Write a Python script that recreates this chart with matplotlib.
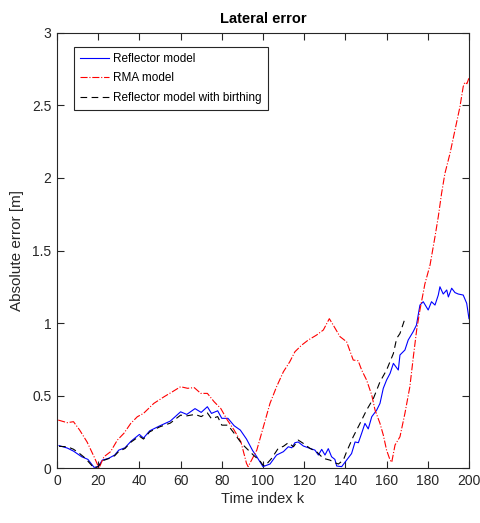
import matplotlib
matplotlib.use("Agg")
import matplotlib.pyplot as plt
import numpy as np

plt.rcParams['font.family'] = ['Liberation Sans', 'DejaVu Sans']

# Reflector model (blue)
k_ref = [1, 5, 8, 12, 15, 18, 20, 22, 25, 28, 30, 33, 36, 40, 42, 45, 50, 55, 60, 63,
         67, 70, 73, 75, 78, 80, 83, 86, 89, 92, 95, 97, 100, 103.4, 106.6, 109.9, 112.3,
         114, 115.5, 117.1, 119.6, 122.8, 125.2, 126.9, 128.5, 130.1, 131.7, 133.3, 134.9,
         135.8, 138.2, 140.6, 143, 144.7, 146.3, 147.9, 149.5, 151.1, 152.8, 155.2, 156.8,
         158.4, 160, 161.7, 163.3, 165.7, 166.5, 168.9, 170.5, 172.9, 174.5, 176.2, 177.8,
         180.2, 181.8, 183.5, 185.1, 185.9, 187.5, 189.2, 190, 191.6, 193.2, 194.8, 197.2,
         198.9, 200]
e_ref = [0.155, 0.138, 0.117, 0.078, 0.06, 0.005, 0.01, 0.055, 0.067, 0.09, 0.124, 0.14,
         0.186, 0.232, 0.207, 0.257, 0.292, 0.324, 0.388, 0.37, 0.41, 0.384, 0.423, 0.377,
         0.395, 0.343, 0.343, 0.292, 0.262, 0.2, 0.12, 0.078, 0.01, 0.028, 0.09, 0.113,
         0.147, 0.14, 0.175, 0.18, 0.152, 0.136, 0.124, 0.09, 0.129, 0.09, 0.134, 0.078,
         0.06, 0.014, 0.01, 0.055, 0.1, 0.18, 0.175, 0.24, 0.308, 0.27, 0.354, 0.4, 0.446,
         0.55, 0.607, 0.653, 0.722, 0.676, 0.78, 0.814, 0.883, 0.94, 0.986, 1.124, 1.147,
         1.09, 1.147, 1.124, 1.193, 1.25, 1.2, 1.228, 1.18, 1.24, 1.21, 1.2, 1.193, 1.136,
         1.03]

# RMA model (red)
k_rma = [0.6, 5, 8, 11, 14.6, 18, 20.4, 22.8, 26, 29.3, 32.5, 35.8, 39, 42, 47, 52, 56,
         60, 63.4, 66.6, 69.8, 73, 76.3, 79.5, 82.7, 86, 89.3, 92, 92.8, 97, 100.2, 103.4,
         106.6, 109.9, 113, 115.5, 118.8, 122, 126, 129.3, 132.2, 134.1, 137.4, 140.6,
         143.8, 146.2, 147.9, 150.3, 152.8, 154.4, 156.8, 158.4, 160, 161.7, 162.5, 164.1,
         166.5, 168.9, 171.3, 173, 174.6, 176.2, 178.6, 181.1, 183.5, 185.1, 186.7, 188.3,
         190.8, 193.2, 195.6, 197.2, 198, 199, 200]
e_rma = [0.331, 0.313, 0.32, 0.262, 0.18, 0.078, 0.0, 0.078, 0.113, 0.193, 0.24, 0.308,
         0.354, 0.377, 0.446, 0.492, 0.526, 0.561, 0.55, 0.555, 0.515, 0.515, 0.457, 0.411,
         0.331, 0.262, 0.18, 0.032, 0.01, 0.124, 0.285, 0.446, 0.561, 0.664, 0.733, 0.802,
         0.848, 0.883, 0.917, 0.952, 1.03, 0.986, 0.906, 0.871, 0.745, 0.74, 0.676, 0.607,
         0.503, 0.4, 0.308, 0.228, 0.124, 0.055, 0.04, 0.159, 0.216, 0.377, 0.561, 0.768,
         0.952, 1.09, 1.27, 1.4, 1.595, 1.733, 1.894, 2.03, 2.17, 2.33, 2.49, 2.63, 2.66,
         2.65, 2.69]

# Reflector model with birthing (black)
k_bir = [1, 5, 8, 11, 13.6, 18, 20, 22, 25, 28, 30, 33, 36, 40, 42, 45, 50, 55, 60, 63,
         67, 70, 73, 75, 78, 80, 83, 86, 89.6, 92, 95.3, 98.5, 100, 101, 104.2, 107.4,
         109.9, 112.3, 114.8, 117.1, 119.6, 122.8, 126, 129.3, 132.5, 134.9, 136.6, 139,
         140.6, 143.8, 147.1, 150.3, 153.6, 156.8, 160, 163.3, 164.9, 166.5, 168.9]
e_bir = [0.15, 0.147, 0.13, 0.1, 0.07, 0.0, 0.01, 0.05, 0.065, 0.085, 0.115, 0.135, 0.18,
         0.22, 0.2, 0.25, 0.285, 0.31, 0.365, 0.36, 0.37, 0.355, 0.38, 0.34, 0.355, 0.296,
         0.296, 0.24, 0.17, 0.136, 0.09, 0.05, 0.02, 0.015, 0.067, 0.136, 0.15, 0.175,
         0.147, 0.193, 0.17, 0.136, 0.113, 0.067, 0.055, 0.037, 0.028, 0.055, 0.113, 0.216,
         0.308, 0.4, 0.48, 0.595, 0.676, 0.79, 0.894, 0.928, 1.03]

fig = plt.figure(figsize=(4.81, 5.23), dpi=100)
ax = fig.add_axes([0.1185, 0.105, 0.8565, 0.832])

ax.plot(k_ref, e_ref, '-', color='#0000ff', lw=0.8, label='Reflector model')
ax.plot(k_rma, e_rma, '-.', color='#ff0000', lw=0.8, label='RMA model')
ax.plot(k_bir, e_bir, '--', color='black', lw=0.8, dashes=(6, 4),
        label='Reflector model with birthing')

ax.set_xlim(0, 200)
ax.set_ylim(0, 3)
ax.set_xticks(np.arange(0, 201, 20))
ax.set_yticks([0, 0.5, 1, 1.5, 2, 2.5, 3])
ax.set_yticklabels(['0', '0.5', '1', '1.5', '2', '2.5', '3'])
ax.tick_params(direction='in', top=True, right=True, length=5, width=0.8,
               labelsize=10, colors='#262626', pad=4)
for s in ax.spines.values():
    s.set_color('#262626')
    s.set_linewidth(0.8)

ax.set_title('Lateral error', fontsize=10.5, fontweight='bold', pad=7)
ax.set_xlabel('Time index k', fontsize=10.5, color='#262626', labelpad=3)
ax.set_ylabel('Absolute error [m]', fontsize=11, color='#262626', labelpad=6)

leg = ax.legend(loc='upper left', bbox_to_anchor=(0.041, 0.968), borderaxespad=0,
                fontsize=8.5, frameon=True, fancybox=False, framealpha=1,
                edgecolor='#262626', handlelength=2.5, borderpad=0.5,
                labelspacing=0.65, handletextpad=0.35)
leg.get_frame().set_linewidth(0.8)

fig.savefig('out.png', dpi=100)
